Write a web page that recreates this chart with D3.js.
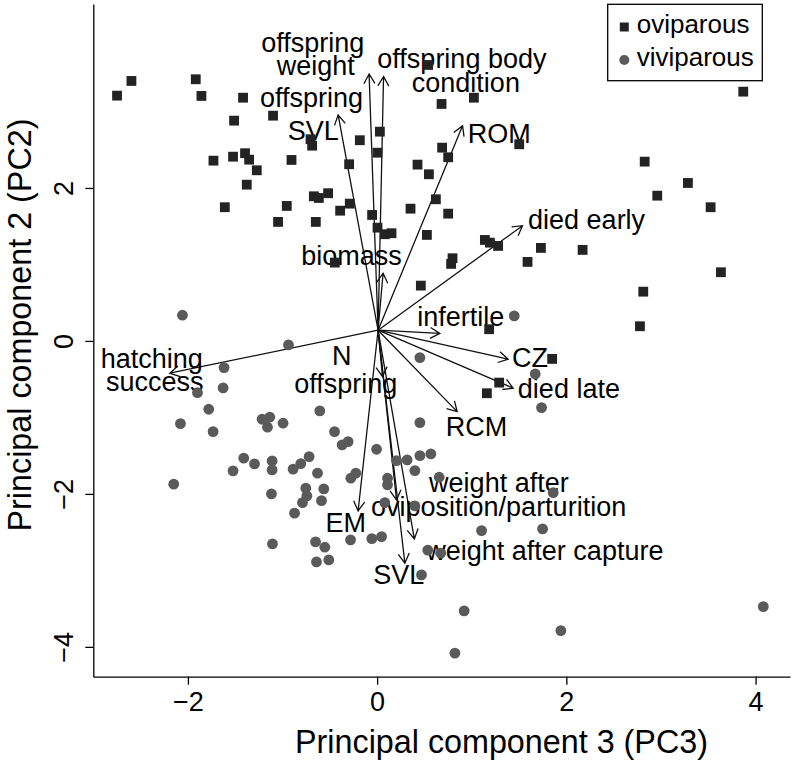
<!DOCTYPE html>
<html>
<head>
<meta charset="utf-8">
<script src="https://cdn.jsdelivr.net/npm/d3@7"></script>
<style>
  body { margin: 0; background: #fff; }
  text { font-family: "Liberation Sans", Arial, Helvetica, sans-serif; fill: #000; }
</style>
</head>
<body>
<div id="biplot"></div>
<script>
// oviparous (squares) and viviparous (circles) scores, PC3 vs PC2
const oviX = [-2.749, -2.597, -1.917, -1.857, -1.417, -1.512, -1.100, -1.730, -1.523, -1.396,
  -1.353, -1.272, -1.378, -0.905, -1.610, -1.047, -0.955, -0.648, -0.669, -0.616,
  -0.518, -0.391, -0.289, -0.704, -0.687, -0.296, -0.183, 0.029, 0.004, -0.053,
  0.004, 0.081, 0.152, -0.447, 0.539, 0.681, 1.023, 1.502, 0.687, 0.751,
  0.427, 0.547, 0.621, 0.353, 0.751, 0.526, 1.139, 1.192, 1.279, 1.731,
  2.172, 3.870, 2.828, 3.285, 2.961, 3.525, 0.797, 0.782, 1.590, 0.462,
  3.634, 2.813, 2.778, 1.184, 1.850, 1.290, 1.160];
const oviY = [3.207, 3.399, 3.421, 3.203, 3.180, 2.880, 2.945, 2.357, 2.409, 2.454,
  2.370, 2.231, 2.043, 2.366, 1.748, 1.556, 1.765, 1.556, 1.891, 1.869,
  1.931, 1.703, 1.795, 2.637, 2.553, 2.310, 2.624, 2.736, 2.461, 1.647,
  1.481, 1.395, 1.408, 1.024, 3.608, 3.098, 3.180, 2.571, 2.527, 2.401,
  2.305, 2.179, 1.852, 1.729, 1.664, 1.386, 1.320, 1.285, 1.242, 1.216,
  1.190, 3.259, 2.344, 2.065, 1.899, 1.748, 1.081, 1.007, 1.033, 0.723,
  0.898, 0.644, 0.192, 0.153, -0.235, -0.545, -0.684];

const viviX = [-2.058, -0.937, -1.618, -1.628, -1.899, -1.780, -2.079, -1.734, -1.216, -1.135,
  -1.159, -0.994, -0.606, -0.450, -0.370, -0.307, -0.006, -1.410, -1.296, -1.110,
  -1.110, -1.523, -0.888, -0.807, -0.719, -0.630, -0.278, -0.225, 0.110, 0.110,
  0.205, -2.150, -1.117, -0.754, -0.564, -0.743, -0.588, -0.789, -0.873, 0.081,
  -0.281, -0.056, 0.047, -1.106, -0.651, -0.553, -0.641, -0.511, 0.452, 0.452,
  0.317, 0.452, 0.568, 0.399, 0.656, 0.399, 1.104, 1.749, 1.861, 0.535,
  0.672, 0.469, 0.920, 1.942, 0.822, 4.082, 1.449, 1.671, 1.738];
const viviY = [0.336, -0.052, -0.349, -0.614, -0.676, -0.893, -1.081, -1.186, -1.024, -0.997,
  -1.128, -1.076, -0.915, -1.186, -1.359, -1.316, -1.416, -1.533, -1.608, -1.569,
  -1.686, -1.699, -1.677, -1.604, -1.512, -1.729, -1.795, -1.729, -1.795, -1.882,
  -1.565, -1.873, -2.000, -1.925, -1.935, -2.026, -2.088, -2.114, -2.252, -2.114,
  -2.601, -2.584, -2.558, -2.654, -2.627, -2.697, -2.889, -2.863, -0.218, -1.068,
  -1.556, -1.499, -1.477, -1.695, -1.782, -2.157, -2.480, -2.458, -1.983, -2.735,
  -2.775, -3.059, -3.529, -3.787, -4.082, -3.473, 0.327, -0.431, -0.872];

// loading arrows (tips, in plot units) drawn from a common origin
const arrowOrigin = [0.01, 0.14];
const arrowNames = ['offspring weight', 'offspring body condition', 'offspring SVL', 'ROM',
  'died early', 'biomass', 'infertile', 'CZ', 'died late', 'RCM', 'hatching success',
  'N offspring', 'EM', 'weight after oviposition/parturition', 'weight after capture', 'SVL'];
const arrowX = [-0.085, 0.068, -0.412, 0.903, 1.537, 0.063, 0.663, 1.385, 1.438, 0.846,
  -2.192, 0.057, -0.201, 0.205, 0.393, 0.293];
const arrowY = [3.490, 3.458, 2.954, 2.814, 1.507, 0.885, 0.098, -0.239, -0.618, -0.924,
  -0.422, -0.467, -2.222, -2.078, -2.588, -2.906];

// arrow labels, one entry per text line (centre x, baseline y)
const labelLines = ['offspring', 'weight', 'offspring', 'SVL', 'offspring body', 'condition',
  'ROM', 'died early', 'biomass', 'infertile', 'CZ', 'died late', 'RCM', 'hatching',
  'success', 'N', 'offspring', 'EM', 'weight after', 'oviposition/parturition',
  'weight after capture', 'SVL'];
const labelX = [-0.680, -0.648, -0.694, -0.675, 0.896, 0.938, 1.292, 2.214, -0.271, 0.885,
  1.615, 2.027, 1.051, -2.382, -2.351, -0.373, -0.331, -0.331, 1.287, 1.284, 1.773, 0.229];
const labelY = [3.778, 3.471, 3.059, 2.627, 3.569, 3.248, 2.584, 1.464, 0.993, 0.196,
  -0.336, -0.741, -1.238, -0.357, -0.650, -0.314, -0.684, -2.493, -1.978, -2.294, -2.863, -3.176];

const xTicks = [-2, 0, 2, 4];
const yTicks = [-4, -2, 0, 2];
const legendLabels = ['oviparous', 'viviparous'];

const svgWidth = 792;
const svgHeight = 764;
const margin = { top: 4, right: 2, bottom: 87.3, left: 93.3 };
const width = svgWidth - margin.left - margin.right;
const height = svgHeight - margin.top - margin.bottom;

const svg = d3.select('#biplot')
    .append('svg')
    .attr('width', svgWidth)
    .attr('height', svgHeight)
    .append('g')
    .attr('transform', 'translate(' + margin.left + ',' + margin.top + ')');

const xScale = d3.scaleLinear()
    .domain([-3.0, 4.364])
    .range([0, width]);

const yScale = d3.scaleLinear()
    .domain([-4.39, 4.405])
    .range([height, 0]);

// axes
const xAxis = svg.append('g')
    .attr('transform', 'translate(0,' + height + ')')
    .call(d3.axisBottom(xScale).tickValues(xTicks).tickSize(8).tickSizeOuter(0).tickPadding(7));
xAxis.selectAll('text').style('font-size', '27px');

const yAxis = svg.append('g')
    .call(d3.axisLeft(yScale).tickValues(yTicks).tickSize(8).tickSizeOuter(0));
yAxis.selectAll('text')
    .attr('x', 0)
    .attr('dy', null)
    .attr('transform', 'translate(-20,0) rotate(-90)')
    .attr('text-anchor', 'middle')
    .style('font-size', '27px');

svg.selectAll('.domain, .tick line')
    .attr('stroke', '#000')
    .attr('stroke-width', 1.3);

svg.append('text')
    .attr('x', 501.5 - margin.left)
    .attr('y', 749)
    .attr('text-anchor', 'middle')
    .style('font-size', '32.3px')
    .text('Principal component 3 (PC3)');

svg.append('text')
    .attr('transform', 'rotate(-90)')
    .attr('x', -(325 - margin.top))
    .attr('y', -margin.left + 31)
    .attr('text-anchor', 'middle')
    .style('font-size', '32.3px')
    .text('Principal component 2 (PC2)');

// arrows
const ox = xScale(arrowOrigin[0]);
const oy = yScale(arrowOrigin[1]);
const headLen = 11;
const headAng = Math.PI / 6;

svg.selectAll('.arrow')
    .data(arrowNames)
    .enter().append('path')
    .attr('class', 'arrow')
    .attr('fill', 'none')
    .attr('stroke', '#111')
    .attr('stroke-width', 1.3)
    .attr('d', (d, i) => {
        const tx = xScale(arrowX[i]);
        const ty = yScale(arrowY[i]);
        const a = Math.atan2(ty - oy, tx - ox);
        const h1x = tx - headLen * Math.cos(a - headAng);
        const h1y = ty - headLen * Math.sin(a - headAng);
        const h2x = tx - headLen * Math.cos(a + headAng);
        const h2y = ty - headLen * Math.sin(a + headAng);
        return 'M' + ox + ',' + oy + 'L' + tx + ',' + ty +
            'M' + h1x + ',' + h1y + 'L' + tx + ',' + ty + 'L' + h2x + ',' + h2y;
    });

svg.selectAll('.arrow-label')
    .data(labelLines)
    .enter().append('text')
    .attr('class', 'arrow-label')
    .attr('x', (d, i) => xScale(labelX[i]))
    .attr('y', (d, i) => yScale(labelY[i]))
    .attr('text-anchor', 'middle')
    .style('font-size', '27px')
    .text(d => d);

// points
svg.selectAll('.ovi')
    .data(oviX)
    .enter().append('rect')
    .attr('class', 'ovi')
    .attr('x', (d, i) => xScale(d) - 4.9)
    .attr('y', (d, i) => yScale(oviY[i]) - 4.9)
    .attr('width', 9.8)
    .attr('height', 9.8)
    .attr('fill', '#232323');

svg.selectAll('.vivi')
    .data(viviX)
    .enter().append('circle')
    .attr('class', 'vivi')
    .attr('cx', (d, i) => xScale(d))
    .attr('cy', (d, i) => yScale(viviY[i]))
    .attr('r', 5.4)
    .attr('fill', '#5a5a5a');

// legend
const legend = svg.append('g')
    .attr('transform', 'translate(' + (607.7 - margin.left) + ',' + (4.3 - margin.top) + ')');

legend.append('rect')
    .attr('width', 154.6)
    .attr('height', 76.4)
    .attr('fill', '#fff')
    .attr('stroke', '#000')
    .attr('stroke-width', 1.3);

legend.append('rect')
    .attr('x', 16.6 - 4.5)
    .attr('y', 22.7 - 4.5)
    .attr('width', 9)
    .attr('height', 9)
    .attr('fill', '#232323');

legend.append('circle')
    .attr('cx', 16.6)
    .attr('cy', 55.7)
    .attr('r', 5)
    .attr('fill', '#5a5a5a');

legend.selectAll('.legend-label')
    .data(legendLabels)
    .enter().append('text')
    .attr('class', 'legend-label')
    .attr('x', 29)
    .attr('y', (d, i) => 29.2 + i * 32.5)
    .style('font-size', '26px')
    .text(d => d);
</script>
</body>
</html>
